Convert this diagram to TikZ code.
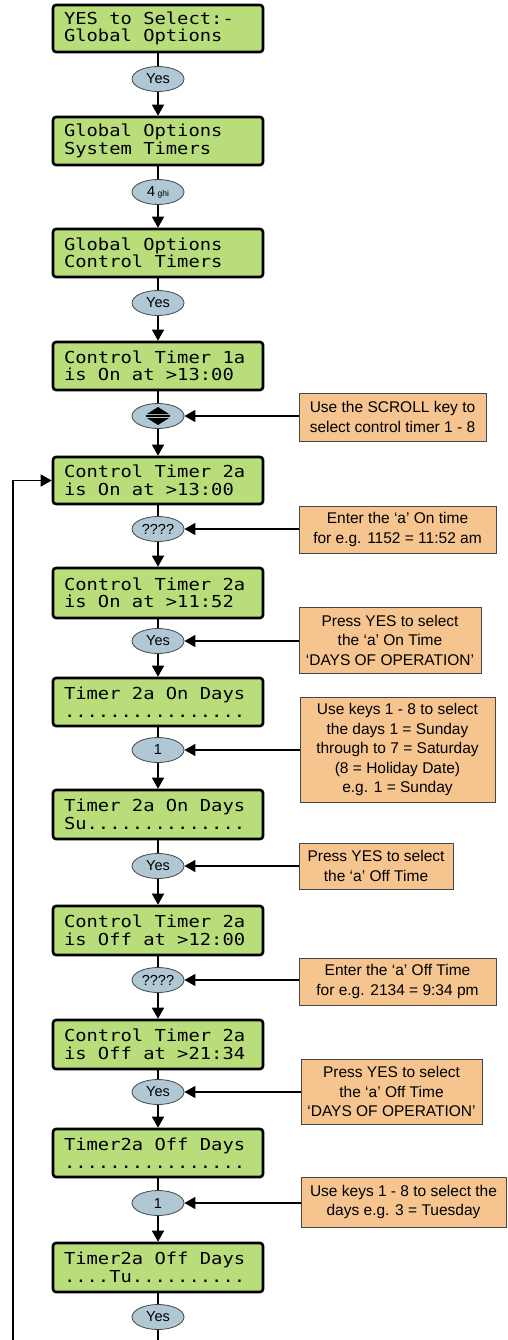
\documentclass[tikz,border=0pt]{standalone}
\usepackage{fontspec}
\setmainfont{Liberation Sans}
\newfontfamily\lcd[FakeStretch=1.14]{DejaVu Sans Mono}
\usetikzlibrary{shapes.geometric,arrows.meta}
\definecolor{lcdgreen}{RGB}{186,221,124}
\definecolor{keyblue}{RGB}{176,200,212}
\definecolor{noteorange}{RGB}{245,196,143}
\definecolor{linegray}{RGB}{70,70,70}
\newcommand{\lcdfont}{\lcd\fontsize{16.5}{17.5}\selectfont}
\newcommand{\ls}{\phantom{x}}
\begin{document}
\begin{tikzpicture}[x=1pt,y=-1pt,
  lcdbox/.style={draw=black, line width=2.6pt, rounded corners=3pt, fill=lcdgreen, minimum width=210pt, minimum height=48pt, text width=188pt, align=left, inner sep=0pt, font=\lcdfont},
  keyoval/.style={ellipse, draw=linegray, line width=0.8pt, fill=keyblue, minimum width=52pt, minimum height=25pt, inner sep=0pt, font=\fontsize{14.5}{14.5}\selectfont},
  note/.style={draw=linegray, line width=0.8pt, fill=noteorange, align=center, inner sep=0pt, font=\fontsize{15.5}{19.5}\selectfont},
  link/.style={line width=1.5pt},
  arr/.style={line width=1.5pt, -{Triangle[width=12pt,length=11pt]}},
  looplink/.style={draw=black, line width=1.5pt, -{Triangle[width=12pt,length=11pt]}},
]
\useasboundingbox (0,0) rectangle (508,1340);

% LCD boxes
\node[lcdbox, minimum height=47pt] (b1) at (158,28.5) {YES\ls to\ls Select:-\\Global\ls Options};
\node[lcdbox] (b2) at (158,141) {Global\ls Options\\System\ls Timers};
\node[lcdbox] (b3) at (158,253) {Global\ls Options\\Control\ls Timers};
\node[lcdbox] (b4) at (158,366) {Control\ls Timer\ls 1a\\is\ls On\ls at\ls >13:00};
\node[lcdbox, minimum height=47pt] (b5) at (158,480.5) {Control\ls Timer\ls 2a\\is\ls On\ls at\ls >13:00};
\node[lcdbox, minimum height=50pt] (b6) at (158,593) {Control\ls Timer\ls 2a\\is\ls On\ls at\ls >11:52};
\node[lcdbox] (b7) at (158,702) {Timer\ls 2a\ls On\ls Days\\................};
\node[lcdbox, minimum height=49pt] (b8) at (158,814.5) {Timer\ls 2a\ls On\ls Days\\Su..............};
\node[lcdbox, minimum height=49pt] (b9) at (158,930.5) {Control\ls Timer\ls 2a\\is\ls Off\ls at\ls >12:00};
\node[lcdbox, minimum height=49pt] (b10) at (158,1044.5) {Control\ls Timer\ls 2a\\is\ls Off\ls at\ls >21:34};
\node[lcdbox] (b11) at (158,1153) {Timer2a\ls Off\ls Days\\................};
\node[lcdbox, minimum height=49pt] (b12) at (158,1267.5) {Timer2a\ls Off\ls Days\\....Tu..........};

% key ovals
\node[keyoval] (o1) at (158,79) {Yes};
\node[keyoval] (o2) at (158,192) {4\,{\fontsize{8.5}{8.5}\selectfont ghi}};
\node[keyoval] (o3) at (158,303) {Yes};
\node[keyoval] (o4) at (158,416) {};
\node[keyoval] (o5) at (158,529) {????};
\node[keyoval] (o6) at (158,641) {Yes};
\node[keyoval] (o7) at (158,750) {1};
\node[keyoval] (o8) at (158,866) {Yes};
\node[keyoval] (o9) at (158,980) {????};
\node[keyoval] (o10) at (158,1092) {Yes};
\node[keyoval] (o11) at (158,1203) {1};
\node[keyoval] (o12) at (158,1317) {Yes};

% scroll symbol
\begin{scope}[shift={(o4.center)}]
  \fill (-11,-2) -- (11,-2) -- (0,-9) -- cycle;
  \fill (-11,2) -- (11,2) -- (0,9) -- cycle;
  \draw[line width=1.1pt] (-12,0) -- (12,0);
\end{scope}

% notes
\node[note, minimum width=187pt, minimum height=48pt] (c1) at (392.5,417) {Use the SCROLL key to\\select control timer 1 - 8};
\node[note, minimum width=197pt, minimum height=47pt] (c2) at (397.5,529.5) {Enter the ‘a’ On time\\for e.g. 1152 = 11:52 am};
\node[note, minimum width=182pt, minimum height=66pt] (c3) at (390,640) {Press YES to select\\the ‘a’ On Time\\‘DAYS OF OPERATION’};
\node[note, minimum width=195pt, minimum height=105pt] (c4) at (397.5,749.5) {Use keys 1 - 8 to select\\the days 1 = Sunday\\through to 7 = Saturday\\(8 = Holiday Date)\\e.g. 1 = Sunday};
\node[note, minimum width=154pt, minimum height=46pt] (c5) at (376,866) {Press YES to select\\the ‘a’ Off Time};
\node[note, minimum width=197pt, minimum height=47pt] (c6) at (397.5,981.5) {Enter the ‘a’ Off Time\\for e.g. 2134 = 9:34 pm};
\node[note, minimum width=181pt, minimum height=65pt] (c7) at (391.5,1091.5) {Press YES to select\\the ‘a’ Off Time\\‘DAYS OF OPERATION’};
\node[note, minimum width=205pt, minimum height=50pt] (c8) at (403.5,1202) {Use keys 1 - 8 to select the\\days e.g. 3 = Tuesday};

% main chain
\foreach \b/\o/\n in {b1/o1/b2, b2/o2/b3, b3/o3/b4, b4/o4/b5, b5/o5/b6, b6/o6/b7, b7/o7/b8, b8/o8/b9, b9/o9/b10, b10/o10/b11, b11/o11/b12} {
  \draw[link] (\b.south) -- (\o.north);
  \draw[arr] (\o.south) -- (\n.north);
}
\draw[link] (b12.south) -- (o12.north);
\coordinate (chainend) at (158,1340);
\draw[link] (o12.south) -- (chainend);

% note arrows
\foreach \c/\o in {c1/o4, c2/o5, c3/o6, c4/o7, c5/o8, c6/o9, c7/o10, c8/o11} {
  \draw[arr] (\c.west |- \o.east) -- (\o.east);
}

% loop back
\coordinate (loopstart) at (13,1340);
\draw[looplink] (loopstart) |- (b5.west);
\end{tikzpicture}
\end{document}
